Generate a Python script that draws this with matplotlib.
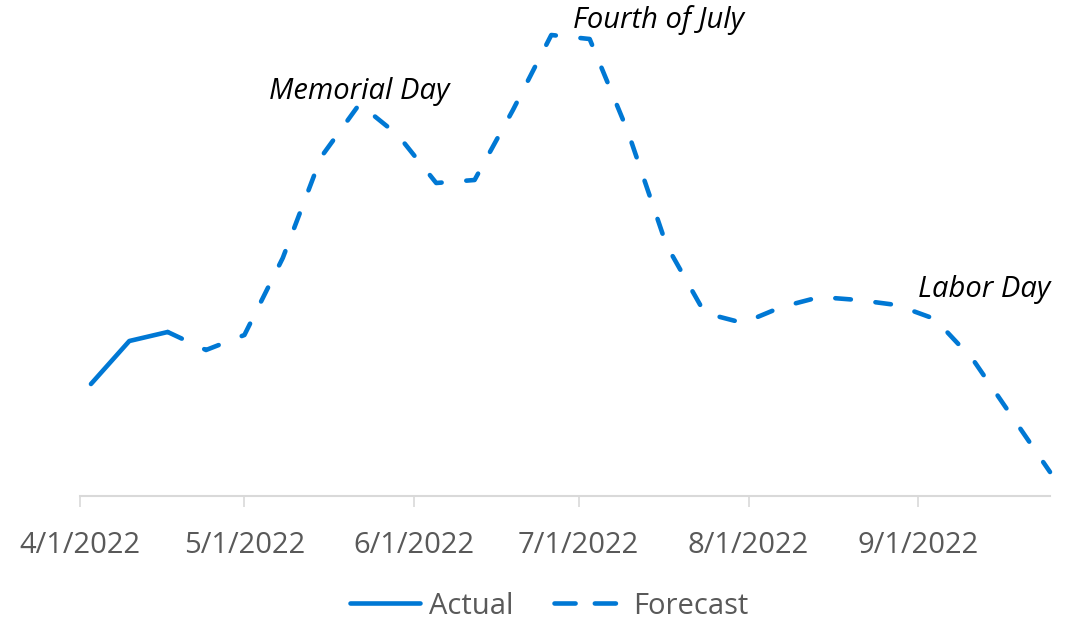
#!/usr/bin/env python3
import numpy as np
import pandas as pd
import matplotlib
matplotlib.use('Agg')
import matplotlib.pyplot as plt
import matplotlib.dates as mdates
from matplotlib.lines import Line2D

BLUE = '#0078D4'
GREY = '#595959'
AXIS_GREY = '#D9D9D9'

actual_dates = ['2022-04-03', '2022-04-10', '2022-04-17']
actual_values = [112, 155, 164]

forecast_dates = ['2022-04-17', '2022-04-24', '2022-05-01', '2022-05-08', '2022-05-15',
                  '2022-05-22', '2022-05-29', '2022-06-05', '2022-06-12', '2022-06-19',
                  '2022-06-26', '2022-07-03', '2022-07-10', '2022-07-17', '2022-07-24',
                  '2022-07-31', '2022-08-07', '2022-08-14', '2022-08-21', '2022-08-28',
                  '2022-09-04', '2022-09-11', '2022-09-18', '2022-09-25']
forecast_values = [164, 146, 161, 238, 339, 392, 361, 313, 316, 386, 461, 457,
                   364, 251, 183, 173, 189, 199, 196, 191, 177, 136, 80, 24]

holidays = ['Memorial Day', 'Fourth of July', 'Labor Day']
holiday_dates = ['2022-05-22', '2022-06-30', '2022-09-01']
holiday_values = [404, 476, 206]
holiday_align = ['center', 'left', 'left']

tick_dates = ['2022-04-01', '2022-05-01', '2022-06-01', '2022-07-01', '2022-08-01', '2022-09-01']


def run():
    plt.rcParams['font.family'] = ['Open Sans', 'DejaVu Sans']

    fig = plt.figure(figsize=(10.79, 6.2), dpi=100)
    ax = fig.add_axes([80 / 1079, 124 / 620, 970 / 1079, 486 / 620])

    lw = 3.3
    ax.plot(pd.to_datetime(actual_dates), actual_values, color=BLUE, lw=lw,
            solid_capstyle='round', solid_joinstyle='round', clip_on=False)
    fc, = ax.plot(pd.to_datetime(forecast_dates), forecast_values, color=BLUE, lw=lw,
                  dash_capstyle='round', dash_joinstyle='round', clip_on=False)
    fc.set_dashes((3.4, 5.4))

    for name, d, v, ha in zip(holidays, holiday_dates, holiday_values, holiday_align):
        ax.text(pd.Timestamp(d), v, name, ha=ha, va='center', fontsize=21,
                fontstyle='italic', color='black')

    ax.set_xlim(pd.Timestamp('2022-04-01'), pd.Timestamp('2022-09-25'))
    ax.set_ylim(0, 486)

    ax.set_xticks(pd.to_datetime(tick_dates))
    ax.xaxis.set_major_formatter(mdates.DateFormatter('%-m/%-d/%Y'))
    ax.tick_params(axis='x', colors=AXIS_GREY, length=8, width=1.2, pad=17,
                   labelsize=21, labelcolor=GREY)
    ax.set_yticks([])
    for s in ['top', 'right', 'left']:
        ax.spines[s].set_visible(False)
    ax.spines['bottom'].set_color(AXIS_GREY)
    ax.spines['bottom'].set_linewidth(1.5)

    handles = [Line2D([], [], color=BLUE, lw=lw, solid_capstyle='round'),
               Line2D([], [], color=BLUE, lw=lw, dash_capstyle='round', dashes=(4.6, 4.2))]
    fig.legend(handles, ['Actual', 'Forecast'], loc='center', ncol=2,
               bbox_to_anchor=(549 / 1079, 1 - 606 / 620), frameon=False,
               fontsize=21, handlelength=2.4, handletextpad=0.3, columnspacing=1.4,
               labelcolor=GREY, borderpad=0.2)

    fig.savefig('out.png', dpi=100)


if __name__ == '__main__':
    run()
